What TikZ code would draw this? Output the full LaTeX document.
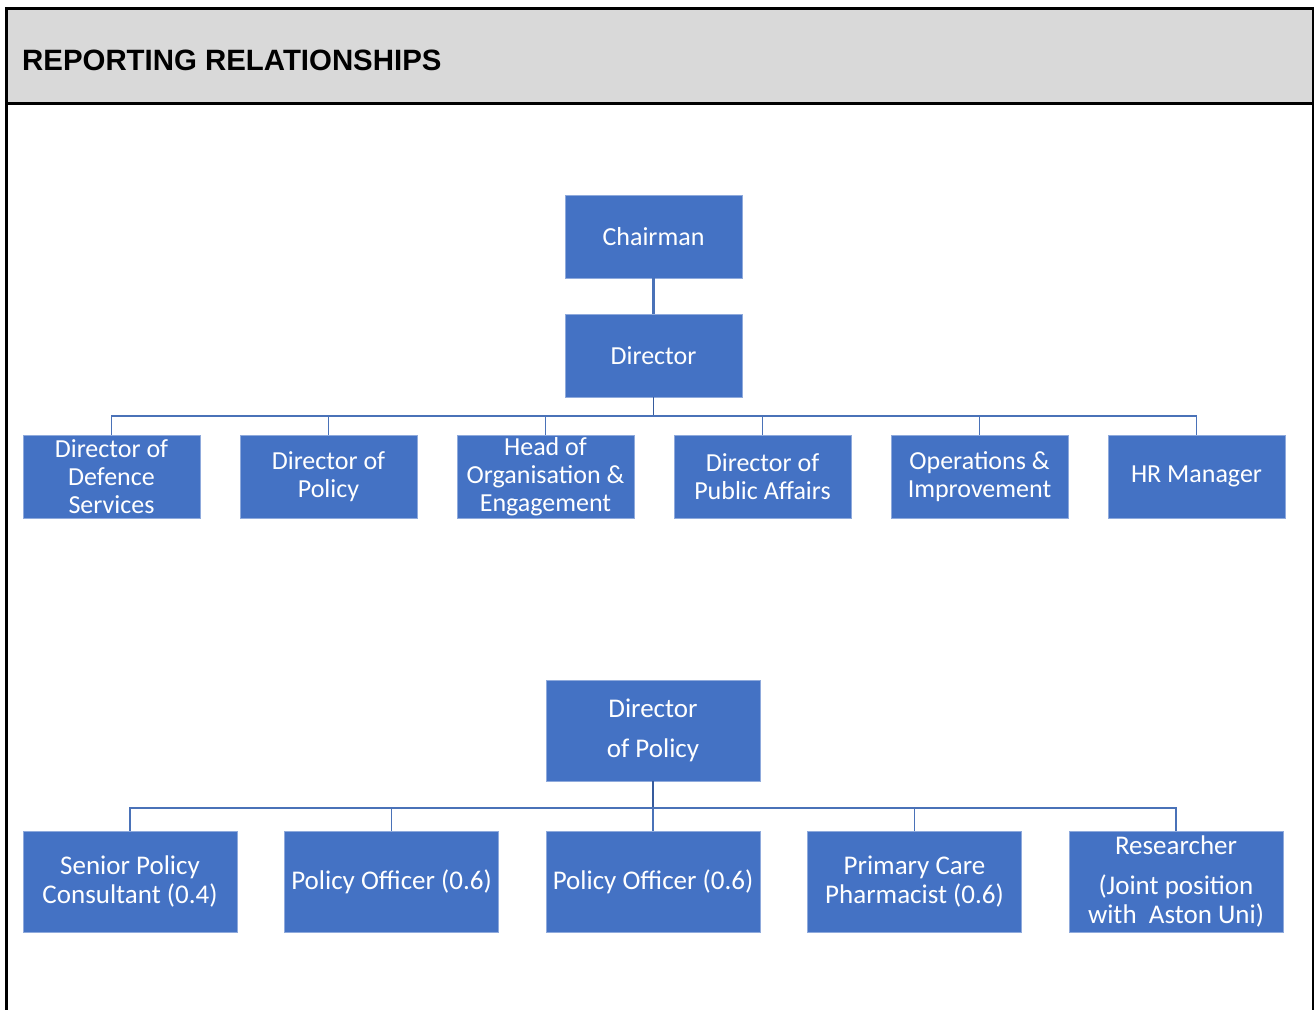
\documentclass[tikz,border=0pt]{standalone}
\usepackage{fontspec}
\setmainfont{Carlito}
\newfontfamily\arialfont{Liberation Sans}
\definecolor{boxblue}{HTML}{4472C4}
\definecolor{boxedge}{HTML}{8FAADC}
\definecolor{linkblue}{HTML}{4A72B8}
\definecolor{headgray}{HTML}{D9D9D9}
\tikzset{
  orgbox/.style={draw=boxedge, line width=0.8pt, fill=boxblue, text=white,
    inner sep=0pt, align=center},
  rowone/.style={orgbox, minimum width=177pt, minimum height=83pt,
    font=\fontsize{26}{27.8}\selectfont},
  rowtwo/.style={orgbox, minimum width=214pt, minimum height=101pt,
    font=\fontsize{27}{28.5}\selectfont},
  link/.style={draw=linkblue, line width=1.6pt},
  frameline/.style={draw=black, line width=2.6pt},
}
\begin{document}
\begin{tikzpicture}[x=1pt, y=-1pt]
\useasboundingbox (0,0) rectangle (1316,1009);
% header and frame
\fill[headgray] (6.5,8.5) rectangle (1313,103.5);
\draw[frameline] (6.5,1012) -- (6.5,8.5) -- (1313,8.5) -- (1313,1012);
\draw[frameline] (6.5,103.5) -- (1313,103.5);
\node[anchor=base west, inner sep=0pt, font=\arialfont\bfseries\fontsize{29.4}{30}\selectfont] (title) at (22,70.5) {REPORTING RELATIONSHIPS};
% upper chart
\node[rowone] (chair) at (653.5,236.5) {Chairman};
\node[rowone] (dir) at (653.5,355.5) {Director};
\node[rowone] (dds) at (111.5,476.5) {Director of\\Defence\\Services};
\node[rowone] (dpol) at (328.5,476.5) {Director of\\Policy};
\node[rowone] (hoe) at (545.5,476.5) {Head of\\Organisation \&\\Engagement};
\node[rowone] (dpa) at (762.5,476.5) {Director of\\Public Affairs};
\node[rowone] (opi) at (979.5,476.5) {Operations \&\\Improvement};
\node[rowone] (hrm) at (1196.5,476.5) {HR Manager};
\draw[link, line width=2.4pt] (chair.south) -- (dir.south |- dir.north);
\coordinate (busA) at (653.5,416);
\draw[link, draw=boxblue!80!black] (dir.south) -- (busA);
\foreach \n in {dds,dpol,hoe,dpa,opi,hrm}{
  \draw[link] (\n.north) |- (busA);
}
% lower chart
\node[rowtwo] (ldp) at (653,730.5) {Director\\[11.5pt]of Policy};
\node[rowtwo] (spc) at (130,881.5) {Senior Policy\\Consultant (0.4)};
\node[rowtwo] (po1) at (391.5,881.5) {Policy Officer (0.6)};
\node[rowtwo] (po2) at (653,881.5) {Policy Officer (0.6)};
\node[rowtwo] (pcp) at (914.5,881.5) {Primary Care\\Pharmacist (0.6)};
\node[rowtwo] (res) at (1176,881.5) {Researcher\\[11.5pt](Joint position\\with\ \ Aston Uni)};
\coordinate (busB) at (653,808);
\draw[link, draw=boxblue!80!black] (ldp.south) -- (busB);
\foreach \n in {spc,po1,po2,pcp,res}{
  \draw[link] (\n.north) |- (busB);
}
\end{tikzpicture}
\end{document}
